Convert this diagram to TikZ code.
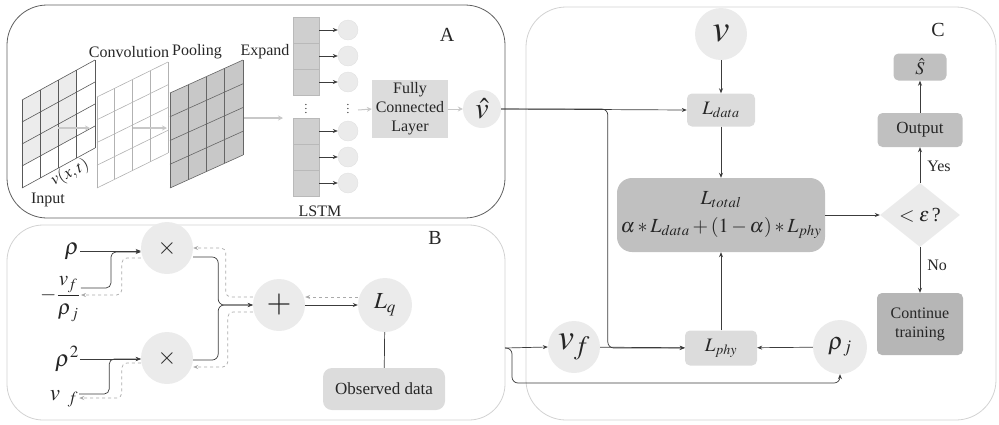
\documentclass[tikz,border=0pt]{standalone}
\usepackage{mathptmx}
\usepackage{fontspec}
\setmainfont{Liberation Serif}
\newfontfamily\lserif{Liberation Serif}
\usetikzlibrary{arrows.meta,positioning,shapes.geometric,calc}
\definecolor{framedark}{RGB}{95,95,95}
\definecolor{framelight}{RGB}{210,210,210}
\definecolor{bubgrey}{RGB}{235,235,235}
\definecolor{bubedge}{RGB}{225,225,225}
\definecolor{cellgrey}{RGB}{207,207,207}
\definecolor{celledge}{RGB}{185,185,185}
\definecolor{inputgrey}{RGB}{236,236,236}
\definecolor{poolgrey}{RGB}{200,200,200}
\definecolor{boxlight}{RGB}{220,220,220}
\definecolor{boxdark}{RGB}{192,192,192}
\definecolor{linegrey}{RGB}{60,60,60}
\definecolor{dashgrey}{RGB}{170,170,170}
\definecolor{arrgrey}{RGB}{200,200,200}

\begin{document}
\begin{tikzpicture}[x=1pt, y=-1pt,
    txt/.style={font=\lserif\fontsize{16}{19}\selectfont, text=black!85, inner sep=1pt, align=center},
    tag/.style={font=\lserif\fontsize{20}{22}\selectfont, text=black!85},
    sym/.style={font=\fontsize{22}{24}\selectfont, text=black!85, inner sep=1pt},
    bub/.style={circle, fill=bubgrey, inner sep=0pt, text=black!85},
    box/.style={rectangle, rounded corners=5pt, inner sep=0pt, align=center, text=black!85},
    cell/.style={rectangle, fill=cellgrey, draw=celledge, minimum width=26pt,
                 minimum height=26pt, inner sep=0pt},
    unit/.style={circle, fill=bubgrey, draw=bubedge, minimum size=20pt, inner sep=0pt},
    arr/.style={-{Stealth[length=5pt, width=4pt]}, draw=linegrey, line width=0.7pt},
    back/.style={-{Stealth[length=5pt, width=4pt]}, draw=dashgrey, dashed, line width=0.7pt},
    garr/.style={-{Stealth[length=5pt, width=5pt]}, draw=arrgrey, line width=1.4pt},
  ]
  \useasboundingbox (0,0) rectangle (999,424);

  % Panels
  \draw[framedark, line width=0.8pt, rounded corners=40pt] (7,5) rectangle (505,218);
  \draw[framelight, line width=0.8pt, rounded corners=36pt] (7,225) rectangle (505,420);
  \draw[framelight, line width=0.8pt, rounded corners=40pt] (526,7) rectangle (996,420);
  \node[tag] (tagA) at (447,35) {A};
  \node[tag] (tagB) at (435,238) {B};
  \node[tag] (tagC) at (938,30) {C};

  % Input grid
  \fill[inputgrey] (22,100) -- ++(54.75,-30) -- ++(0,66) -- ++(-54.75,30) -- cycle;
  \foreach \i in {0,...,4} {
    \draw[black!65, line width=0.6pt] ({22+73*\i/4},{100-40*\i/4}) -- ++(0,88);
    \draw[black!65, line width=0.6pt] (22,{100+88*\i/4}) -- ++(73,-40);
  }
  % Convolution grid
  \foreach \i in {0,...,4} {
    \draw[black!30, line width=0.6pt] ({97+71*\i/4},{97-35*\i/4}) -- ++(0,91);
    \draw[black!30, line width=0.6pt] (97,{97+91*\i/4}) -- ++(71,-35);
  }
  % Pooling grid
  \fill[poolgrey] (170,93) -- ++(73,-33) -- ++(0,95) -- ++(-73,33) -- cycle;
  \foreach \i in {0,...,4} {
    \draw[black!60, line width=0.6pt] ({170+73*\i/4},{93-33*\i/4}) -- ++(0,95);
    \draw[black!60, line width=0.6pt] (170,{93+95*\i/4}) -- ++(73,-33);
  }
  \draw[garr] (58,128) -- (90,128);
  \draw[garr] (133,128) -- (167,128);
  \draw[garr] (244,118) -- (283,118);

  \node[txt] (lconv) at (129,52) {Convolution};
  \node[txt] (lpool) at (197,52) {Pooling};
  \node[txt] (lexp) at (265,52) {Expand};
  \node[txt] (linp) at (48,200) {Input};
  \node[sym, font=\fontsize{17}{19}\selectfont, rotate=27] (lvxt) at (70,173) {$v(x,t)$};

  % LSTM
  \foreach \y/\n in {30/1,56/2,82/3,131/4,157/5,183/6} {
    \node[cell] (c\n) at (306,\y) {};
    \node[unit] (u\n) at (348,\y) {};
    \draw[arr, line width=0.6pt] (c\n.east) -- (u\n.west);
  }
  \node[sym, inner sep=0pt, font=\fontsize{11}{12}\selectfont] (dotc) at (306,106) {$\vdots$};
  \node[sym, inner sep=0pt, font=\fontsize{11}{12}\selectfont] (dotu) at (348,106) {$\vdots$};
  \node[txt] (llstm) at (320,211) {LSTM};

  % Fully connected
  \node[box, rounded corners=0pt, fill=boxlight, minimum width=76pt, minimum height=58pt,
        font=\lserif\fontsize{16}{19}\selectfont] (fc) at (410,109) {Fully\\Connected\\Layer};
  \node[bub, minimum size=38pt, font=\fontsize{30}{32}\selectfont] (vhat) at (482,109) {$\hat{v}$};
  \coordinate (ucol) at (358,110);
  \draw[garr, line width=1pt] (ucol) -- (fc.west);
  \draw[garr, line width=1pt] (fc.east) -- (vhat.west);

  % Panel B
  \node[sym, font=\fontsize{23}{25}\selectfont] (rho) at (72,251) {$\rho$};
  \node[sym, font=\fontsize{21}{23}\selectfont] (frac) at (60,299) {$-\displaystyle\frac{v_{f}}{\rho_{\,j}}$};
  \node[sym, font=\fontsize{23}{25}\selectfont] (rho2) at (67,359) {$\rho^{2}$};
  \node[sym, font=\fontsize{23}{25}\selectfont] (vfb) at (64,399) {$v_{\;\;f}$};
  \node[bub, minimum size=52pt, font=\fontsize{24}{26}\selectfont] (mt) at (167,248) {$\times$};
  \node[bub, minimum size=52pt, font=\fontsize{24}{26}\selectfont] (mb) at (167,358) {$\times$};
  \node[bub, minimum size=52pt, font=\fontsize{32}{34}\selectfont] (plus) at (279,305) {$+$};
  \node[bub, minimum size=54pt, font=\fontsize{23}{25}\selectfont] (Lq) at (385,305) {$L_{q}$};
  \node[box, rounded corners=9pt, fill=boxlight, minimum width=122pt, minimum height=42pt,
        font=\lserif\fontsize{17}{19}\selectfont] (obs) at (384,389) {Observed data};

  \draw[arr] (rho.east) -- (rho.east -| mt.west);
  \draw[arr, rounded corners=5pt] ([yshift=11pt]frac.east) -- ++(30,0) |- ([yshift=-4pt]mt.west);
  \draw[back, rounded corners=5pt] ([yshift=-10pt]mt.west) -- ++(-19,0) |- ([yshift=4pt]frac.east);
  \draw[arr] (rho2.east) -- (rho2.east -| mb.west);
  \draw[arr, rounded corners=5pt] ([yshift=5pt]vfb.east) -- ++(30,0) |- ([yshift=-1pt]mb.west);
  \draw[back, rounded corners=5pt] ([yshift=-5pt]mb.west) -- ++(-19,0) |- ([yshift=1pt]vfb.east);
  \draw[arr, rounded corners=6pt] ([yshift=-9pt]mt.east) -- ++(25,0) |- (plus.west);
  \draw[arr, rounded corners=6pt] ([yshift=-2pt]mb.east) -- ++(25,0) |- (plus.west);
  \draw[back, rounded corners=5pt] ([yshift=8pt]plus.west) -- ++(-27,0) |- (mt.east);
  \draw[back, rounded corners=5pt] ([yshift=-7pt]plus.west) -- ++(-25,0) |- ([yshift=-9pt]mb.east);
  \draw[arr] (plus.east) -- (Lq.west);
  \draw[back] ([yshift=8pt]Lq.west) -- ([yshift=8pt]plus.east);
  \draw[linegrey, line width=0.7pt] (Lq) -- (obs);

  % Panel C
  \node[bub, minimum size=52pt, font=\fontsize{38}{40}\selectfont] (vin) at (721,34) {$v$};
  \node[box, fill=boxlight, minimum width=68pt, minimum height=33pt,
        font=\fontsize{19}{21}\selectfont] (Ldata) at (721,110) {$L_{data}$};
  \node[box, rounded corners=15pt, fill=boxdark, minimum width=208pt, minimum height=74pt,
        font=\fontsize{20}{28}\selectfont] (Ltot) at (721,215)
        {$L_{total}$\\$\alpha*L_{data}+(1-\alpha)*L_{phy}$};
  \node[box, fill=boxlight, minimum width=72pt, minimum height=35pt,
        font=\fontsize{19}{21}\selectfont] (Lphy) at (721,348) {$L_{phy}$};
  \node[bub, minimum size=52pt, font=\fontsize{36}{38}\selectfont] (vf) at (574,347) {$v_{f}$};
  \node[bub, minimum size=54pt, font=\fontsize{24}{26}\selectfont] (rhoj) at (840,347) {$\rho_{\,j}$};
  \node[diamond, fill=bubgrey, aspect=1.25, inner sep=0pt, minimum width=80pt,
        minimum height=64pt, text=black!85, font=\fontsize{20}{22}\selectfont] (dec) at (920,215) {$<\varepsilon\,$?};
  \node[box, fill=boxdark, minimum width=85pt, minimum height=34pt,
        font=\lserif\fontsize{17}{19}\selectfont] (out) at (920,130) {Output};
  \node[box, fill=boxdark, minimum width=53pt, minimum height=27pt,
        font=\fontsize{18}{20}\selectfont] (shat) at (920,67) {$\hat{S}$};
  \node[box, fill=boxdark!95!black, minimum width=86pt, minimum height=62pt,
        font=\lserif\fontsize{16}{19}\selectfont] (cont) at (920,324) {Continue\\training};

  \draw[arr] (vin) -- (Ldata);
  \draw[arr] (Ldata) -- (Ltot);
  \draw[arr] (Lphy) -- (Ltot);
  \draw[arr] (rhoj) -- (Lphy);
  \draw[arr] (vf) -- (Lphy);
  \draw[arr] (Ltot) -- (dec);
  \draw[arr] (dec) -- node[txt, right=6pt, pos=0.45] {Yes} (out);
  \draw[arr] (out) -- (shat);
  \draw[arr] (dec) -- node[txt, right=6pt, pos=0.4] {No} (cont);
  \draw[arr] (vhat.east) -- (Ldata.west);
  \draw[arr, rounded corners=6pt] (vhat.east) -| ([xshift=-77pt]Lphy.west) -- (Lphy.west);

  % Panel B to panel C
  \coordinate (bout) at (505,348);
  \draw[arr] (bout) -- (vf.west);
  \draw[arr, rounded corners=6pt] (bout) -| ++(7,35) -| (rhoj.south);
\end{tikzpicture}
\end{document}
